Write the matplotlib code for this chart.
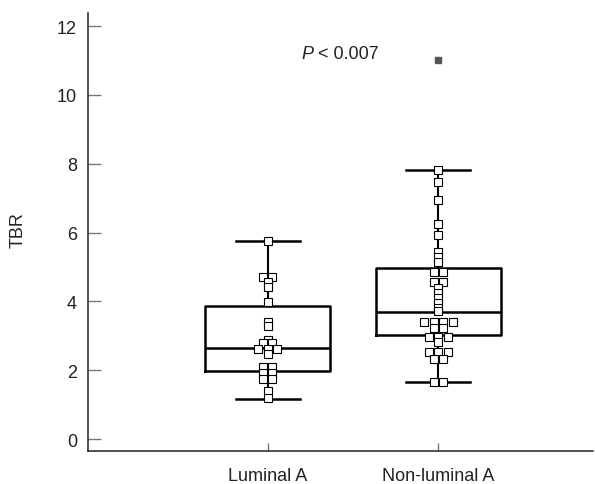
import matplotlib
matplotlib.use("Agg")
import matplotlib.pyplot as plt
import numpy as np

plt.rcParams['font.family'] = ['Liberation Sans Narrow', 'Liberation Sans', 'DejaVu Sans']

# ---- data ----
categories = ["Luminal A", "Non-luminal A"]
luminal_a = [5.76, 4.72, 4.72, 4.55, 4.41, 3.97, 3.41, 3.29, 2.88, 2.78, 2.78,
             2.62, 2.62, 2.62, 2.48, 2.08, 2.08, 1.92, 1.92, 1.74, 1.74, 1.40, 1.19]
non_luminal_a = [7.83, 7.46, 6.95, 6.25, 5.93, 5.43, 5.28, 5.14, 4.86, 4.86, 4.55,
                 4.55, 4.38, 4.23, 4.09, 3.95, 3.80, 3.71, 3.39, 3.39, 3.39, 3.39,
                 3.22, 3.22, 2.97, 2.97, 2.97, 2.81, 2.52, 2.52, 2.52, 2.33, 2.33,
                 1.67, 1.67]
outliers = [[], [11.0]]
box_q1 = [1.97, 3.02]
box_med = [2.65, 3.70]
box_q3 = [3.86, 4.97]
whisker_lo = [1.17, 1.67]
whisker_hi = [5.76, 7.83]
y_ticks = [0, 2, 4, 6, 8, 10, 12]
p_text = "< 0.007"

fig = plt.figure(figsize=(5.95, 4.85), dpi=100)
ax = fig.add_axes([88 / 595, 1 - 451.7 / 485, 505 / 595, (451.7 - 14) / 485])
ax.set_xlim(-0.053, 2.907)
ax.set_ylim(-0.34, 12.38)

positions = [1, 2]
stats = []
for i in range(2):
    stats.append(dict(med=box_med[i], q1=box_q1[i], q3=box_q3[i],
                      whislo=whisker_lo[i], whishi=whisker_hi[i], fliers=[]))
lw = 1.8
ax.bxp(stats, positions=positions, widths=0.735, capwidths=0.375, showfliers=False,
       boxprops=dict(color='black', linewidth=lw),
       medianprops=dict(color='black', linewidth=lw),
       whiskerprops=dict(color='black', linewidth=1.5),
       capprops=dict(color='black', linewidth=1.8), zorder=2)

# dot placement: equal values side by side, centred
fig.canvas.draw()
px_per_unit = ax.transData.transform((1, 0))[0] - ax.transData.transform((0, 0))[0]
spacing = 9.5 / px_per_unit
for pos, vals in zip(positions, [luminal_a, non_luminal_a]):
    vals = np.array(vals)
    uniq = []
    for v in vals:
        if v not in uniq:
            uniq.append(v)
    xs, ys = [], []
    for u in uniq:
        n = int(np.sum(vals == u))
        for k in range(n):
            xs.append(pos + (k - (n - 1) / 2) * spacing)
            ys.append(u)
    ax.plot(xs, ys, linestyle='none', marker='s', markersize=5.2,
            markerfacecolor='white', markeredgecolor='black', markeredgewidth=0.8,
            zorder=3)

for pos, fl in zip(positions, outliers):
    if fl:
        ax.plot([pos] * len(fl), fl, linestyle='none', marker='s', markersize=4.2,
                markerfacecolor='#555555', markeredgecolor='#555555', zorder=3)

ax.text(1.266, 11.2, "P", style='italic', ha='right', va='center', fontsize=13,
        color='#222222')
ax.text(1.295, 11.2, p_text, ha='left', va='center', fontsize=13, color='#222222')

for s in ['top', 'right']:
    ax.spines[s].set_visible(False)
for s in ['left', 'bottom']:
    ax.spines[s].set_linewidth(1.1)
    ax.spines[s].set_color('#222222')

ax.set_yticks(y_ticks)
ax.set_yticklabels([str(t) for t in y_ticks])
ax.set_xticks(positions)
ax.set_xticklabels(categories)
ax.tick_params(axis='y', direction='in', length=9, width=1, color='#777777',
               labelsize=13, labelcolor='#222222', pad=8)
ax.tick_params(axis='x', direction='in', length=6, width=1, color='#777777',
               labelsize=13, labelcolor='#222222', pad=12)

fig.text(18 / 595, 1 - 230 / 485, "TBR", rotation=90, ha='center', va='center',
         fontsize=13, color='#222222')

fig.savefig("out.png", dpi=100)
